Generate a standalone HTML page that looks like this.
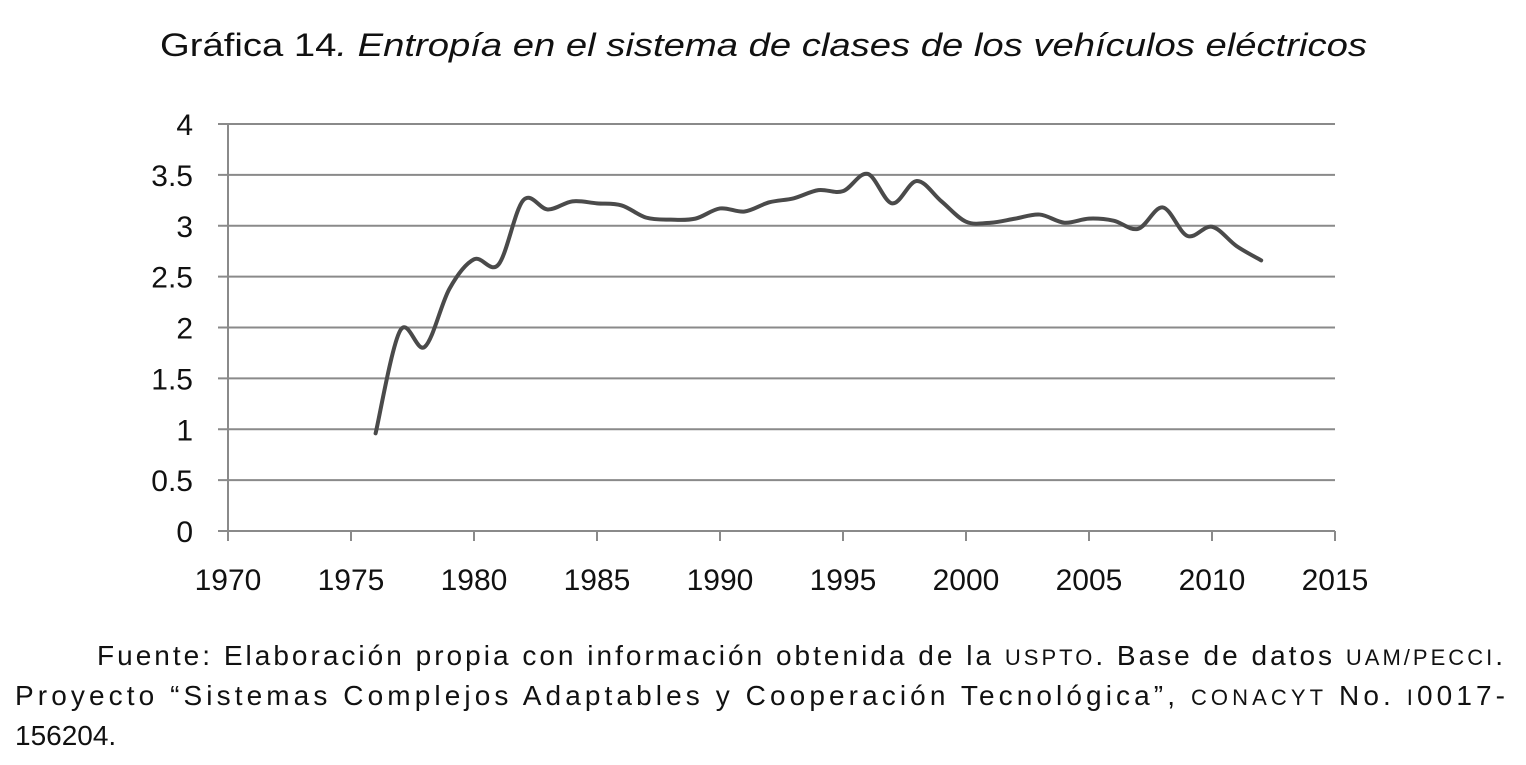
<!DOCTYPE html>
<html><head><meta charset="utf-8"><style>
body{margin:0;background:#fff;width:1526px;height:765px;overflow:hidden;font-family:"Liberation Sans",sans-serif;color:#111}
</style></head><body>
<svg width="1526" height="765" style="position:absolute;left:0;top:0" id="svg" font-family="Liberation Sans" fill="#111">
<text x="160" y="56" font-size="32" textLength="1207" lengthAdjust="spacingAndGlyphs">Gráfica 14<tspan font-style="italic">. Entropía en el sistema de clases de los vehículos eléctricos</tspan></text>
<g id="grid"></g><g id="axes"></g>
<path id="line" fill="none" stroke="#4a4a4a" stroke-width="4" stroke-linejoin="round" stroke-linecap="round"/>
<g font-size="28">
<text x="97" y="665" textLength="1406" lengthAdjust="spacing">Fuente: Elaboración propia con información obtenida de la <tspan font-size="22">USPTO</tspan>. Base de datos <tspan font-size="22">UAM/PECCI</tspan>.</text>
<text x="15" y="705" textLength="1490" lengthAdjust="spacing">Proyecto “Sistemas Complejos Adaptables y Cooperación Tecnológica”, <tspan font-size="22">CONACYT</tspan> No. <tspan font-size="22">I</tspan>0017-</text>
<text x="15" y="745">156204.</text>
</g>
</svg>
<script>
const years=[1976,1977,1978,1979,1980,1981,1982,1983,1984,1985,1986,1987,1988,1989,1990,1991,1992,1993,1994,1995,1996,1997,1998,1999,2000,2001,2002,2003,2004,2005,2006,2007,2008,2009,2010,2011,2012];
const entropy=[0.96,1.97,1.81,2.38,2.67,2.62,3.25,3.16,3.24,3.22,3.2,3.08,3.06,3.07,3.17,3.14,3.23,3.27,3.35,3.34,3.51,3.22,3.44,3.24,3.04,3.03,3.07,3.11,3.03,3.07,3.05,2.97,3.18,2.90,2.99,2.8,2.66];
const yTicks=[0,0.5,1,1.5,2,2.5,3,3.5,4];
const xTicks=[1970,1975,1980,1985,1990,1995,2000,2005,2010,2015];
const X=v=>228+(v-1970)*(1335-228)/45, Y=v=>531-v*(531-124)/4;
const ns="http://www.w3.org/2000/svg",g=document.getElementById('grid'),a=document.getElementById('axes');
function mk(t,at,p){const e=document.createElementNS(ns,t);for(const k in at)e.setAttribute(k,at[k]);p.appendChild(e);return e;}
yTicks.forEach(v=>{
 const l=mk('line',{x1:218,x2:1335,y1:Y(v),y2:Y(v),stroke:'#8a8a8a','stroke-width':2},g);
 
 
 const t=mk('text',{x:193,y:Y(v)+11,'text-anchor':'end','font-size':30},a);t.textContent=v;
 
 
});
mk('line',{x1:228,x2:228,y1:124,y2:531,stroke:'#8a8a8a','stroke-width':2},a);
xTicks.forEach(v=>{
 mk('line',{x1:X(v),x2:X(v),y1:531,y2:541,stroke:'#8a8a8a','stroke-width':2},a);
 const t=mk('text',{x:X(v),y:590,'text-anchor':'middle','font-size':30},a);t.textContent=v;
 
 
});
const P=years.map((y,i)=>[X(y),Y(entropy[i])]);
let d='M'+P[0];
for(let i=0;i<P.length-1;i++){const p0=P[i-1]||P[i],p1=P[i],p2=P[i+1],p3=P[i+2]||p2;
 const c1=[p1[0]+(p2[0]-p0[0])/6,p1[1]+(p2[1]-p0[1])/6],c2=[p2[0]-(p3[0]-p1[0])/6,p2[1]-(p3[1]-p1[1])/6];
 d+=' C'+c1+' '+c2+' '+p2;}
document.getElementById('line').setAttribute('d',d);
</script>
</body></html>
